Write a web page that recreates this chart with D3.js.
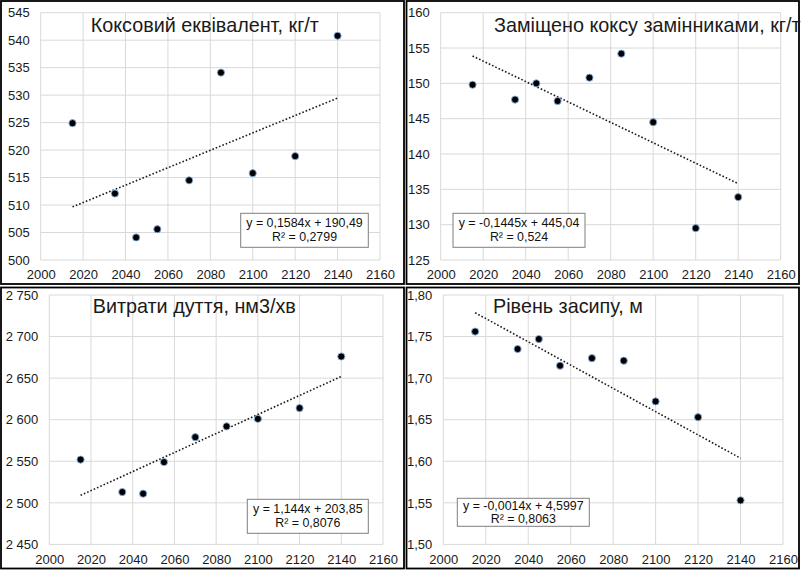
<!DOCTYPE html>
<html>
<head>
<meta charset="utf-8">
<script src="https://cdn.jsdelivr.net/npm/d3@7"></script>
<style>
  body { margin: 0; background: #fff; }
  text { font-family: "Liberation Sans", Arial, sans-serif; }
</style>
</head>
<body>
<script>
// data
var years = [2015, 2035, 2045, 2055, 2070, 2085, 2100, 2120, 2140];
var cokeEquivalent = [524.9, 512.1, 504.1, 505.6, 514.5, 534.1, 515.8, 518.9, 540.8];
var cokeReplaced = [149.8, 147.7, 150.0, 147.5, 150.8, 154.2, 144.5, 129.5, 133.9];
var blastFlow = [2552, 2513, 2511, 2549, 2579, 2592, 2601, 2614, 2676];
var burdenLevel = [1.756, 1.735, 1.747, 1.715, 1.724, 1.721, 1.672, 1.653, 1.553];

var titles = ["Коксовий еквівалент, кг/т", "Заміщено коксу замінниками, кг/т",
  "Витрати дуття, нм3/хв", "Рівень засипу, м"];
var slopes = [0.1584, -0.1445, 1.144, -0.0014];
var intercepts = [190.49, 445.04, 203.85, 4.5997];
var equations = ["y = 0,1584x + 190,49", "y = -0,1445x + 445,04",
  "y = 1,144x + 203,85", "y = -0,0014x + 4,5997"];
var rSquared = ["R² = 0,2799", "R² = 0,524", "R² = 0,8076", "R² = 0,8063"];

var xTicks = [2000, 2020, 2040, 2060, 2080, 2100, 2120, 2140, 2160];
var yDomains = [[500, 545], [125, 160], [2450, 2750], [1.50, 1.80]];
var yTickStep = [5, 5, 50, 0.05];

var series = [cokeEquivalent, cokeReplaced, blastFlow, burdenLevel];

var loc = d3.formatLocale({ decimal: ",", thousands: " ", grouping: [3], currency: ["", ""] });
var yFormats = [loc.format("d"), loc.format("d"), loc.format(",d"), loc.format(".2f")];

// panel layout (frame, plot area, title, equation box)
var panels = [
  { frame: [1, 1, 404, 284], plot: [40.7, 12.7, 380, 260], title: [90.7, 31.7], box: [240.7, 213.3, 127.6, 34] },
  { frame: [406.5, 1, 799, 284], plot: [440.7, 12.7, 780.7, 260], title: [494, 31.7], box: [453, 213.3, 132, 34] },
  { frame: [1, 287.5, 404, 568.5], plot: [49.3, 295, 383, 544.4], title: [92.7, 313.3], box: [247.3, 499.3, 121, 34] },
  { frame: [406.5, 287.5, 799, 568.5], plot: [443.3, 295, 783, 544.4], title: [493, 312.7], box: [457.3, 498.3, 132, 28] }
];

var svg = d3.select("body").append("svg")
  .attr("width", 801)
  .attr("height", 570);

panels.forEach(function (p, i) {
  var g = svg.append("g");

  g.append("rect")
    .attr("x", p.frame[0]).attr("y", p.frame[1])
    .attr("width", p.frame[2] - p.frame[0])
    .attr("height", p.frame[3] - p.frame[1])
    .attr("fill", "#fff")
    .attr("stroke", "#000")
    .attr("stroke-width", 1.8);

  var x = d3.scaleLinear().domain([2000, 2160]).range([p.plot[0], p.plot[2]]);
  var y = d3.scaleLinear().domain(yDomains[i]).range([p.plot[3], p.plot[1]]);

  var yTicks = d3.range(0, Math.round((yDomains[i][1] - yDomains[i][0]) / yTickStep[i]) + 1)
    .map(function (k) { return yDomains[i][0] + k * yTickStep[i]; });

  // gridlines
  g.append("g").selectAll("line.h").data(yTicks).enter().append("line")
    .attr("x1", p.plot[0]).attr("x2", p.plot[2])
    .attr("y1", function (d) { return y(d); })
    .attr("y2", function (d) { return y(d); })
    .attr("stroke", "#d9d9d9").attr("stroke-width", 1);

  g.append("g").selectAll("line.v").data(xTicks).enter().append("line")
    .attr("y1", p.plot[1]).attr("y2", p.plot[3])
    .attr("x1", function (d) { return x(d); })
    .attr("x2", function (d) { return x(d); })
    .attr("stroke", "#d9d9d9").attr("stroke-width", 1);

  // axes (labels only)
  var leftAxis = d3.axisLeft(y).tickValues(yTicks).tickFormat(yFormats[i]).tickSize(0).tickPadding(11);
  var bottomAxis = d3.axisBottom(x).tickValues(xTicks).tickFormat(d3.format("d")).tickSize(0).tickPadding(10);

  var ya = g.append("g")
    .attr("transform", "translate(" + p.plot[0] + ",0)")
    .call(leftAxis);
  var xa = g.append("g")
    .attr("transform", "translate(0," + p.plot[3] + ")")
    .call(bottomAxis);
  [ya, xa].forEach(function (a) {
    a.select(".domain").remove();
    a.selectAll("text")
      .style("font-family", "'Liberation Sans', Arial, sans-serif")
      .style("font-size", "13px")
      .attr("fill", "#1a1a1a");
  });

  // trend line from the shown equation
  var ends = [years[0], years[years.length - 1]];
  g.append("line")
    .attr("x1", x(ends[0])).attr("x2", x(ends[1]))
    .attr("y1", y(slopes[i] * ends[0] + intercepts[i]))
    .attr("y2", y(slopes[i] * ends[1] + intercepts[i]))
    .attr("stroke", "#1a1a1a")
    .attr("stroke-width", 1.6)
    .attr("stroke-dasharray", "1.6,2");

  // points
  g.append("g").selectAll("circle").data(series[i]).enter().append("circle")
    .attr("cx", function (d, k) { return x(years[k]); })
    .attr("cy", function (d) { return y(d); })
    .attr("r", 3.6)
    .attr("fill", "#000")
    .attr("stroke", "#8db4e2")
    .attr("stroke-width", 0.9);

  // title
  g.append("text")
    .attr("x", p.title[0]).attr("y", p.title[1])
    .style("font-size", "19.8px")
    .attr("fill", "#1a1a1a")
    .text(titles[i]);

  // equation box
  g.append("rect")
    .attr("x", p.box[0]).attr("y", p.box[1])
    .attr("width", p.box[2]).attr("height", p.box[3])
    .attr("fill", "#fff")
    .attr("stroke", "#7f7f7f")
    .attr("stroke-width", 1);

  var cx = p.box[0] + p.box[2] / 2;
  var lineGap = p.box[3] > 30 ? 14 : 13;
  var top = p.box[1] + p.box[3] / 2 - lineGap / 2 + 4;
  g.append("text")
    .attr("x", cx).attr("y", top)
    .attr("text-anchor", "middle")
    .style("font-size", "12.4px")
    .attr("fill", "#111")
    .text(equations[i]);
  g.append("text")
    .attr("x", cx).attr("y", top + lineGap)
    .attr("text-anchor", "middle")
    .style("font-size", "12.4px")
    .attr("fill", "#111")
    .text(rSquared[i]);
});
</script>
</body>
</html>
